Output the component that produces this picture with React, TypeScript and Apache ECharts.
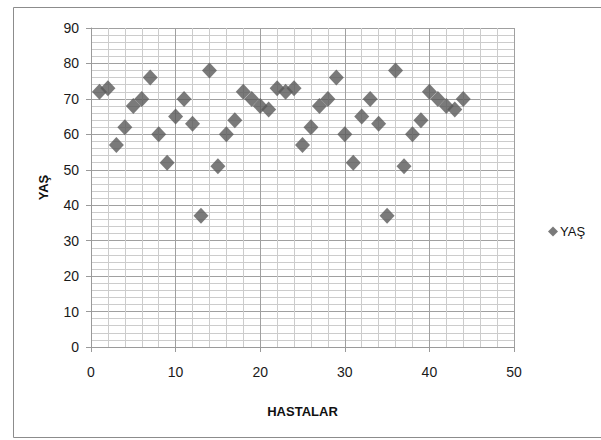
import React, { useEffect, useRef } from "react";
import * as echarts from "echarts";

const patients = [
  1, 2, 3, 4, 5, 6, 7, 8, 9, 10, 11, 12, 13, 14, 15, 16, 17, 18, 19, 20, 21, 22,
  23, 24, 25, 26, 27, 28, 29, 30, 31, 32, 33, 34, 35, 36, 37, 38, 39, 40, 41, 42, 43, 44,
];
const ages = [
  72, 73, 57, 62, 68, 70, 76, 60, 52, 65, 70, 63, 37, 78, 51, 60, 64, 72, 70, 68, 67, 73,
  72, 73, 57, 62, 68, 70, 76, 60, 52, 65, 70, 63, 37, 78, 51, 60, 64, 72, 70, 68, 67, 70,
];
const seriesName = "YAŞ";
const xTitle = "HASTALAR";
const yTitle = "YAŞ";

const FONT = "'Liberation Sans', Arial, sans-serif";

export default function App() {
  const ref = useRef<HTMLDivElement>(null);
  useEffect(() => {
    if (!ref.current) return;
    const chart = echarts.init(ref.current, undefined, { renderer: "svg" });
    const data = patients.map((p, i) => [p, ages[i]]);
    chart.setOption({
      animation: false,
      backgroundColor: "#ffffff",
      textStyle: { fontFamily: FONT },
      graphic: [
        {
          type: "rect",
          shape: { x: 13.5, y: 7.5, width: 600, height: 430 },
          style: { fill: "none", stroke: "#8c8c8c", lineWidth: 1 },
          silent: true,
        },
      ],
      legend: {
        data: [{ name: seriesName, icon: "diamond" }],
        left: 543,
        top: 220,
        itemWidth: 10,
        itemHeight: 10,
        itemGap: 4,
        textStyle: { fontSize: 13, color: "#111", fontFamily: FONT, padding: [0, 0, 0, -3] },
      },
      grid: { left: 91, right: 87, top: 28, bottom: 93, containLabel: false },
      xAxis: {
        type: "value",
        min: 0,
        max: 50,
        interval: 10,
        name: xTitle,
        nameLocation: "middle",
        nameGap: 58,
        nameTextStyle: { fontWeight: "bold", fontSize: 13, color: "#111", fontFamily: FONT },
        axisLine: { show: true, onZero: false, lineStyle: { color: "#9a9a9a" } },
        axisTick: { show: true, inside: false, length: 5, lineStyle: { color: "#9a9a9a" } },
        axisLabel: { fontSize: 14, color: "#1a1a1a", margin: 18, fontFamily: FONT },
        splitLine: { show: true, lineStyle: { color: "#a0a0a0" } },
        minorTick: { show: false, splitNumber: 5 },
        minorSplitLine: { show: true, lineStyle: { color: "#cccccc" } },
      },
      yAxis: {
        type: "value",
        min: 0,
        max: 90,
        interval: 10,
        name: yTitle,
        nameLocation: "middle",
        nameGap: 41,
        nameTextStyle: { fontWeight: "bold", fontSize: 13, color: "#111", fontFamily: FONT },
        axisLine: { show: true, lineStyle: { color: "#9a9a9a" } },
        axisTick: { show: true, inside: false, length: 5, lineStyle: { color: "#9a9a9a" } },
        axisLabel: { fontSize: 14, color: "#1a1a1a", margin: 12, fontFamily: FONT },
        splitLine: { show: true, lineStyle: { color: "#a0a0a0" } },
        minorTick: { show: false, splitNumber: 5 },
        minorSplitLine: { show: true, lineStyle: { color: "#cccccc" } },
      },
      series: [
        {
          name: seriesName,
          type: "scatter",
          symbol: "diamond",
          symbolSize: [15, 16],
          itemStyle: { color: "#595959" },
          data,
        },
      ],
    });
    return () => chart.dispose();
  }, []);
  return (
    <div
      ref={ref}
      style={{ position: "fixed", left: 0, top: 0, width: 601, height: 440 }}
    />
  );
}
